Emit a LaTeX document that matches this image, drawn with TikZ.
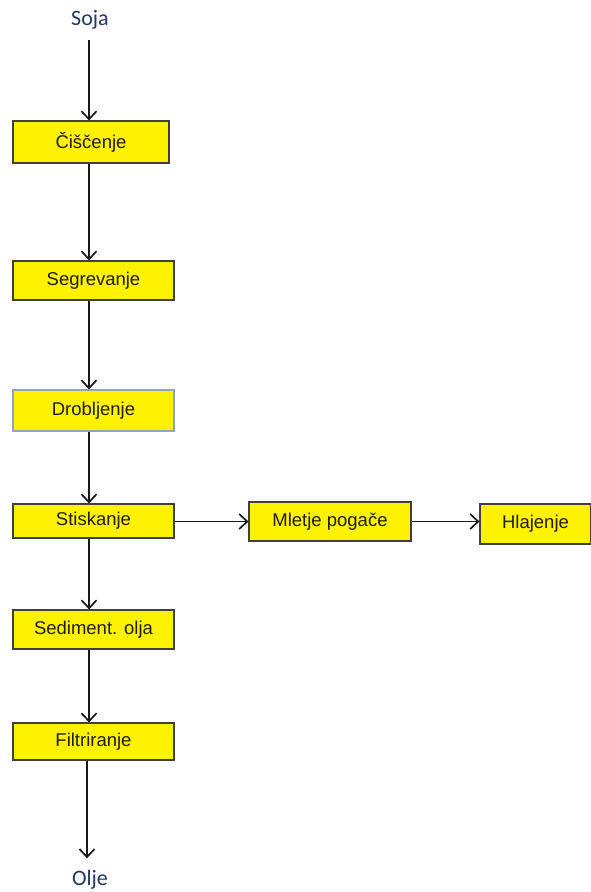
\documentclass[tikz,border=0pt]{standalone}
\usepackage{fontspec}
\setmainfont{Liberation Sans}
\newfontfamily\calfont{Carlito}
\usetikzlibrary{arrows.meta}
\definecolor{boxborder}{RGB}{64,64,64}
\definecolor{lightborder}{RGB}{140,165,195}
\definecolor{labelblue}{RGB}{31,56,100}
\definecolor{txt}{RGB}{30,30,10}
\tikzset{
  stepbox/.style={draw=boxborder, line width=1.1pt, fill=yellow, text=txt,
    font=\fontsize{18.5}{20}\selectfont, inner sep=0pt, anchor=center},
  endlabel/.style={text=labelblue, font=\calfont\fontsize{22}{24}\selectfont, inner sep=2pt},
  flow/.style={draw=black!90, line width=1.7pt, -{Straight Barb[length=8pt,width=15pt,line width=1.7pt]}}
}
\begin{document}
\begin{tikzpicture}[x=1pt,y=-1pt]
\useasboundingbox (0,0) rectangle (591,892);
\coordinate (col) at (89,0);
\coordinate (colb) at (87,0);
\node[endlabel] (soja) at (90,20) {Soja};
\node[stepbox, minimum width=156pt, minimum height=42pt] (c) at (91,142) {Čiščenje};
\node[stepbox, minimum width=161pt, minimum height=39pt] (s) at (93.5,280.5) {Segrevanje};
\node[stepbox, draw=lightborder, minimum width=161pt, minimum height=41pt] (d) at (93.5,410.5) {Drobljenje};
\node[stepbox, minimum width=161pt, minimum height=34pt] (st) at (93.5,521) {Stiskanje};
\node[stepbox, minimum width=162pt, minimum height=39pt] (m) at (330,521.5) {Mletje pogače};
\node[stepbox, minimum width=111pt, minimum height=40pt] (h) at (535.5,524) {Hlajenje};
\node[stepbox, minimum width=161pt, minimum height=39pt] (sed) at (93.5,629.5) {Sediment. olja};
\node[stepbox, minimum width=161pt, minimum height=37pt] (f) at (93.5,741.5) {Filtriranje};
\node[endlabel] (olje) at (90,880) {Olje};
\draw[flow] ([yshift=-8pt]soja.south -| col) -- (c.north -| col);
\draw[flow] (c.south -| col) -- (s.north -| col);
\draw[flow] (s.south -| col) -- (d.north -| col);
\draw[flow] (d.south -| col) -- (st.north -| col);
\draw[flow] (st.south -| col) -- (sed.north -| col);
\draw[flow] (sed.south -| col) -- (f.north -| col);
\draw[flow] (f.south -| colb) -- ([yshift=10pt]olje.north -| colb);
\draw[flow] (st.east |- m.west) -- (m.west);
\draw[flow] (m.east) -- (h.west |- m.east);
\end{tikzpicture}
\end{document}
